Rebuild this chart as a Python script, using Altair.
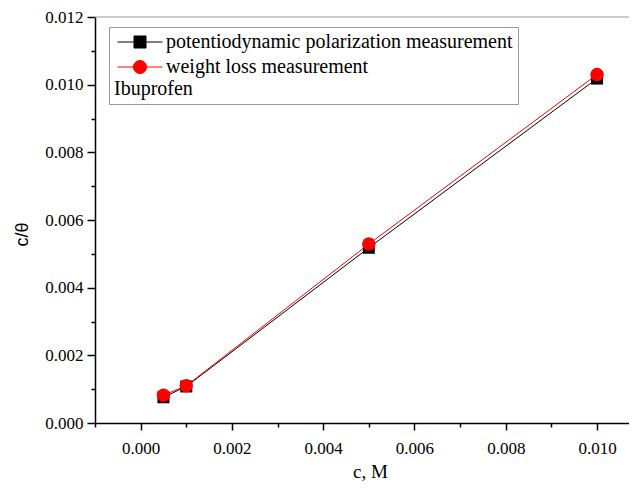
import altair as alt
import pandas as pd

series_names = ["potentiodynamic polarization measurement", "weight loss measurement"]
conc = [0.0005, 0.001, 0.005, 0.010]
pdp_vals = [0.00076, 0.00108, 0.00518, 0.01018]
wl_vals = [0.00082, 0.00110, 0.00529, 0.01030]
x_major = [0.000, 0.002, 0.004, 0.006, 0.008, 0.010]
x_minor = [-0.001, 0.001, 0.003, 0.005, 0.007, 0.009]
y_major = [0.000, 0.002, 0.004, 0.006, 0.008, 0.010, 0.012]
y_minor = [0.001, 0.003, 0.005, 0.007, 0.009, 0.011]
colors = ["#000000", "#ff0000"]

pdp_df = pd.DataFrame({"c": conc, "v": pdp_vals, "series": series_names[0]})
wl_df = pd.DataFrame({"c": conc, "v": wl_vals, "series": series_names[1]})
df = pd.concat([pdp_df, wl_df], ignore_index=True)
top_df = pd.DataFrame({"v": [0.012]})

xs = alt.Scale(domain=[-0.001, 0.0107], nice=False, zero=False)
ys = alt.Scale(domain=[0.0, 0.012], nice=False)
SERIF = "Liberation Serif"

x_axis = alt.Axis(values=x_major, format=".3f", grid=False, orient="bottom",
                  labelFont=SERIF, labelFontSize=17, labelColor="black",
                  tickSize=7, tickWidth=1.5, tickColor="black", labelPadding=10,
                  domainColor="black", domainWidth=1.5,
                  title="c, M", titleFont=SERIF, titleFontSize=19, titleFontWeight="normal",
                  titleColor="black", titleX=275, titleY=54, titleAlign="center",
                  titleBaseline="alphabetic")
y_axis = alt.Axis(values=y_major, format=".3f", grid=False, orient="left",
                  labelFont=SERIF, labelFontSize=17, labelColor="black",
                  tickSize=8, tickWidth=1.5, tickColor="black", labelPadding=4,
                  domainColor="black", domainWidth=1.5,
                  title="c/θ", titleFont="Liberation Sans", titleFontSize=18,
                  titleFontWeight="normal", titleColor="black", titleAngle=-90,
                  titleX=-73, titleY=217, titleAlign="center", titleBaseline="middle")

X = lambda ax=None: alt.X("c:Q", scale=xs, axis=ax)
Y = lambda ax=None: alt.Y("v:Q", scale=ys, axis=ax)

line_pdp = alt.Chart(pdp_df).mark_line(strokeWidth=1, color=colors[0]).encode(x=X(x_axis), y=Y(y_axis))
line_wl = alt.Chart(wl_df).mark_line(strokeWidth=1, color=colors[1]).encode(x=X(), y=Y())
pts_pdp = alt.Chart(pdp_df).mark_point(filled=True, opacity=1, shape="square", size=144,
                                       color=colors[0]).encode(x=X(), y=Y())
pts_wl = alt.Chart(wl_df).mark_point(filled=True, opacity=1, shape="circle", size=182,
                                     color=colors[1]).encode(x=X(), y=Y())

sq_path = "M-3.75,0H3.75M-1,-1H1V1H-1Z"
ci_path = "M-3.75,0H3.75M1.1,0A1.1,1.1,0,1,1,-1.1,0A1.1,1.1,0,1,1,1.1,0Z"
leg = alt.Legend(
    orient="none", legendX=14, legendY=10, title="Ibuprofen", titleOrient="bottom",
    titleAnchor="start", titleFont=SERIF, titleFontSize=20, titleFontWeight="normal",
    titleColor="black", titlePadding=2, labelFont=SERIF, labelFontSize=20,
    labelColor="black", labelLimit=500, symbolSize=144, symbolStrokeWidth=1,
    symbolOpacity=1, symbolOffset=16, labelOffset=16, rowPadding=5,
    strokeColor="#999999", padding=5, fillColor="white",
)
cscale = alt.Scale(domain=series_names, range=colors)
legend_layer = alt.Chart(df).mark_point(filled=True, opacity=0).encode(
    x=X(), y=Y(),
    color=alt.Color("series:N", scale=cscale, legend=leg),
    stroke=alt.Stroke("series:N", scale=cscale, legend=leg),
    shape=alt.Shape("series:N", scale=alt.Scale(domain=series_names, range=[sq_path, ci_path]), legend=leg),
)

minor = alt.Chart(df).mark_point(opacity=0).encode(
    x=X(alt.Axis(values=x_minor, labels=False, domain=False, grid=False,
                 tickSize=4, tickWidth=1.5, tickColor="black", title=None, orient="bottom")),
    y=Y(alt.Axis(values=y_minor, labels=False, domain=False, grid=False,
                 tickSize=4, tickWidth=1.5, tickColor="black", title=None, orient="left")),
)

top_rule = alt.Chart(top_df).mark_rule(color="#999999", strokeWidth=1).encode(y=Y())

chart = alt.layer(top_rule, minor, line_pdp, line_wl, pts_pdp, pts_wl, legend_layer).resolve_axis(
    x="independent", y="independent"
).properties(
    width=534, height=406,
    padding={"left": 87, "top": 9, "right": 0, "bottom": 60},
    autosize=alt.AutoSizeParams(type="none"),
).configure_view(stroke=None).configure_axis(labelFont=SERIF).configure_legend(labelFont=SERIF, titleFont=SERIF)

chart.save("out.html", embed_options={"renderer": "svg", "actions": False})
